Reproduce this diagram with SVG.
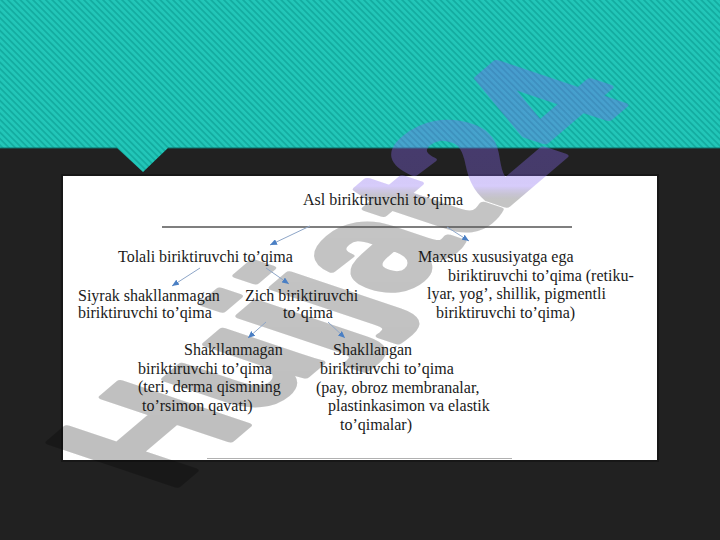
<svg xmlns="http://www.w3.org/2000/svg" width="720" height="540" viewBox="0 0 720 540">
  <defs>
    <pattern id="stripes" patternUnits="userSpaceOnUse" width="4.5" height="10" patternTransform="rotate(-45)">
      <rect width="4.5" height="10" fill="#22c6b8"/>
      <rect width="1.8" height="10" fill="#14ada1"/>
    </pattern>
    <linearGradient id="wmg" gradientUnits="userSpaceOnUse" x1="0" y1="0" x2="0" y2="540">
      <stop offset="0" stop-color="#7a58f0" stop-opacity="0.42"/>
      <stop offset="0.345" stop-color="#8a6cf0" stop-opacity="0.35"/>
      <stop offset="0.37" stop-color="#000000" stop-opacity="0.23"/>
      <stop offset="1" stop-color="#000000" stop-opacity="0.26"/>
    </linearGradient>
    <mask id="wm" maskUnits="userSpaceOnUse" x="0" y="0" width="720" height="540">
      <text transform="matrix(1.2,-1.02,1.85,0.62,169,492)" font-family="'Liberation Sans', Arial, sans-serif" font-weight="bold" font-size="100" fill="#fff" stroke="#fff" stroke-width="4" stroke-linejoin="round">Hujjat24</text>
    </mask>
    <marker id="ah" markerWidth="8" markerHeight="6" refX="7" refY="3" orient="auto" markerUnits="userSpaceOnUse">
      <path d="M0,0 L7,3 L0,6 Z" fill="#4a7fc4"/>
    </marker>
    <style>
      .t { font-size: 16px; fill: #1a1a1a; }
      .c { stroke: #8ea6c8; stroke-width: 1; fill: none; marker-end: url(#ah); }
    </style>
  </defs>

  <!-- background -->
  <rect width="720" height="540" fill="#212121"/>
  <path d="M0,0 H720 V148 H168 L143,172 L117,148 H0 Z" fill="url(#stripes)"/>
  <line x1="0" y1="148" x2="117" y2="148" stroke="#0e6f68" stroke-width="1"/>
  <line x1="168" y1="148" x2="720" y2="148" stroke="#0e6f68" stroke-width="1"/>

  <!-- white panel -->
  <rect x="61" y="174" width="598" height="288" fill="#111" opacity="0.6"/>
  <rect x="63" y="176" width="594" height="284" fill="#ffffff"/>
  <line x1="207" y1="458.5" x2="512" y2="458.5" stroke="#b0b0b0" stroke-width="1.2"/>

  <!-- watermark -->
  <rect width="720" height="540" fill="url(#wmg)" mask="url(#wm)"/>

  <!-- header rule -->
  <line x1="162" y1="227" x2="572" y2="227" stroke="#555" stroke-width="1.3"/>

  <g id="connectors">
    <line class="c" x1="310" y1="226" x2="270" y2="245"/>
    <line class="c" x1="447" y1="227" x2="469" y2="241"/>
    <line class="c" x1="200" y1="268" x2="172" y2="286"/>
    <line class="c" x1="266" y1="268" x2="289" y2="284"/>
    <line class="c" x1="266" y1="322" x2="248" y2="338"/>
    <line class="c" x1="328" y1="322" x2="345" y2="338"/>
  </g>

  <g font-family="Liberation Serif, Tinos, Times New Roman, DejaVu Serif, serif">
  <g id="asl">
    <text class="t" x="303" y="205">Asl biriktiruvchi to’qima</text>
  </g>
  <g id="tolali">
    <text class="t" x="118" y="262">Tolali biriktiruvchi to’qima</text>
  </g>
  <g id="maxsus">
    <text class="t" x="418" y="262">Maxsus xususiyatga ega</text>
    <text class="t" x="448" y="281">biriktiruvchi to’qima (retiku-</text>
    <text class="t" x="427" y="299">lyar, yog’, shillik, pigmentli</text>
    <text class="t" x="436" y="318">biriktiruvchi to’qima)</text>
  </g>
  <g id="siyrak">
    <text class="t" x="78" y="301">Siyrak shakllanmagan</text>
    <text class="t" x="78" y="318">biriktiruvchi to’qima</text>
  </g>
  <g id="zich">
    <text class="t" x="245" y="301">Zich biriktiruvchi</text>
    <text class="t" x="283" y="318">to’qima</text>
  </g>
  <g id="shakllanmagan">
    <text class="t" x="184" y="355">Shakllanmagan</text>
    <text class="t" x="138" y="374">biriktiruvchi to’qima</text>
    <text class="t" x="138" y="392">(teri, derma qismining</text>
    <text class="t" x="142" y="411">to’rsimon qavati)</text>
  </g>
  <g id="shakllangan">
    <text class="t" x="333" y="355">Shakllangan</text>
    <text class="t" x="320" y="374">biriktiruvchi to’qima</text>
    <text class="t" x="316" y="393">(pay, obroz membranalar,</text>
    <text class="t" x="328" y="411">plastinkasimon va elastik</text>
    <text class="t" x="340" y="430">to’qimalar)</text>
  </g>
  </g>
</svg>
